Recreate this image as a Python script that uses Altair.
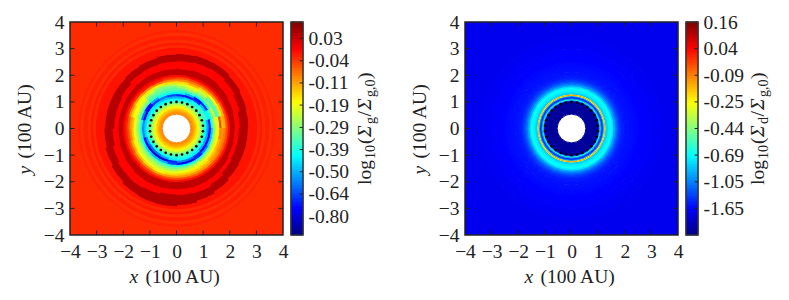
import altair as alt
import numpy as np
import pandas as pd

SERIF = "Liberation Serif"
FS = 19.5
SUB = 14
INK = "#222222"
PW = 213
PH = 213

AXIS_TICKS = [-4, -3, -2, -1, 0, 1, 2, 3, 4]
LEFT_CB_TICKS = [-0.80, -0.64, -0.50, -0.39, -0.29, -0.19, -0.11, -0.04, 0.03]
LEFT_CB_POS = [0.089, 0.193, 0.297, 0.401, 0.505, 0.610, 0.714, 0.818, 0.923]
LEFT_CB_ENDS = [-0.98, 0.085]
RIGHT_CB_TICKS = [-1.65, -1.05, -0.69, -0.44, -0.25, -0.09, 0.04, 0.16]
RIGHT_CB_POS = [0.125, 0.25, 0.375, 0.5, 0.625, 0.75, 0.875, 1.0]
RIGHT_CB_ENDS = [-2.6, 0.16]

# gas: rings inside the gap (edges, values)
G_IN_EDGES = [0.54, 0.60, 0.66, 0.72, 0.78, 0.84, 0.90, 0.96, 1.02, 1.07]
G_IN_VALS = [-0.09, -0.10, -0.12, -0.14, -0.17, -0.21, -0.26, -0.31, -0.36]
# gas: spiral zone, one row per 15 degree sector clockwise from the top
G_SP_EDGES = [1.07, 1.15, 1.23, 1.31, 1.39, 1.47, 1.55, 1.63, 1.71, 1.79, 1.87, 1.95, 2.03]
G_SP_VALS = [
    [-.42, -.50, -.70, -.42, -.36, -.31, -.26, -.21, -.15, -.09, -.05, -.01],
    [-.40, -.46, -.72, -.50, -.36, -.29, -.22, -.17, -.12, -.08, -.04, 0],
    [-.38, -.42, -.68, -.72, -.42, -.31, -.26, -.22, -.15, -.09, -.04, 0],
    [-.36, -.38, -.48, -.68, -.42, -.28, -.34, -.30, -.18, -.10, -.04, 0],
    [-.36, -.38, -.42, -.40, -.30, -.22, -.35, -.32, -.16, -.12, -.05, 0],
    [-.40, -.50, -.70, -.38, -.28, -.20, -.22, -.05, -.13, -.11, -.05, -.01],
    [-.42, -.52, -.76, -.46, -.30, -.20, -.17, -.09, -.10, -.08, -.05, -.01],
    [-.42, -.52, -.76, -.48, -.32, -.22, -.17, -.13, -.10, -.08, -.05, -.01],
    [-.42, -.50, -.74, -.55, -.35, -.24, -.19, -.14, -.11, -.09, -.05, -.01],
    [-.40, -.44, -.68, -.68, -.38, -.26, -.20, -.16, -.13, -.10, -.05, -.01],
    [-.38, -.42, -.58, -.74, -.40, -.28, -.22, -.17, -.14, -.10, -.06, -.01],
    [-.38, -.42, -.56, -.76, -.40, -.30, -.24, -.19, -.14, -.10, -.05, -.01],
    [-.38, -.44, -.70, -.64, -.38, -.31, -.26, -.20, -.15, -.10, -.05, -.01],
    [-.40, -.50, -.78, -.50, -.36, -.30, -.25, -.21, -.17, -.11, -.05, -.01],
    [-.42, -.58, -.82, -.48, -.34, -.27, -.23, -.20, -.15, -.09, -.04, -.01],
    [-.42, -.60, -.82, -.45, -.33, -.26, -.22, -.19, -.13, -.08, -.03, 0],
    [-.40, -.54, -.74, -.42, -.32, -.25, -.20, -.17, -.11, -.06, -.03, 0],
    [-.38, -.46, -.56, -.40, -.30, -.24, -.19, -.14, -.09, -.05, -.02, 0],
    [-.38, -.46, -.56, -.40, -.30, -.24, -.19, -.13, -.10, -.06, -.02, 0],
    [-.40, -.46, -.76, -.56, -.33, -.26, -.20, -.18, -.14, -.09, -.03, 0],
    [-.42, -.44, -.74, -.72, -.33, -.27, -.20, -.19, -.17, -.10, -.03, 0],
    [-.42, -.46, -.66, -.50, -.36, -.33, -.28, -.22, -.16, -.09, -.02, 0],
    [-.42, -.48, -.58, -.42, -.36, -.33, -.30, -.27, -.17, -.08, -.02, 0],
    [-.42, -.50, -.64, -.42, -.36, -.33, -.30, -.24, -.15, -.09, -.04, -.01],
]
# gas: edges of the two dark bands, one value per 15 degree sector clockwise from the top
G_BAND_START = 2.03
G_BAND1_OUT = [2.25, 2.28, 2.30, 2.27, 2.24, 2.21, 2.20, 2.22, 2.26, 2.29, 2.30, 2.30, 2.30, 2.30, 2.29, 2.26, 2.23, 2.20, 2.20, 2.20, 2.21, 2.23, 2.25, 2.25]
G_BAND2_IN = [2.55, 2.58, 2.60, 2.55, 2.48, 2.40, 2.36, 2.36, 2.40, 2.48, 2.54, 2.52, 2.50, 2.55, 2.58, 2.56, 2.50, 2.42, 2.36, 2.36, 2.40, 2.47, 2.50, 2.53]
G_BAND2_OUT = [2.82, 2.84, 2.85, 2.80, 2.75, 2.72, 2.70, 2.70, 2.72, 2.78, 2.84, 2.90, 2.94, 2.93, 2.90, 2.84, 2.78, 2.73, 2.70, 2.70, 2.70, 2.73, 2.76, 2.80]
G_BAND_END = 3.05
G_BAND_VALS = [0.04, -0.004, 0.048, -0.014]
G_OUT_EDGES = [3.05, 3.15, 3.25, 3.35, 3.50, 3.62, 3.72, 5.70]
G_OUT_VALS = [-0.028, -0.018, -0.032, -0.022, -0.032, -0.024, -0.03]

# dust: rings
D_EDGES = [0.54, 1.02, 1.05, 1.08, 1.11, 1.15, 1.20, 1.24, 1.26, 1.28, 1.30, 1.33, 1.38, 1.46, 1.54, 1.60, 1.66, 1.72, 1.76, 1.80, 1.85, 1.90, 1.95, 2.00, 2.10, 2.20, 2.35, 2.50, 2.75, 3.00, 3.40, 5.70]
D_VALS = [-2.4, -2.0, -1.0, -0.6, -1.0, -1.45, -0.95, -0.25, -0.08, -0.25, -0.85, -0.80, -0.72, -0.68, -0.78, -0.95, -1.1, -1.22, -1.32, -1.4, -1.47, -1.52, -1.55, -1.57, -1.59, -1.6, -1.62, -1.65, -1.68, -1.72, -1.78]

DOT_RADIUS = [1.0]
DOT_ANGLES = [0, 12, 24, 36, 48, 60, 72, 84, 96, 108, 120, 132, 144, 156, 168, 180,
              192, 204, 216, 228, 240, 252, 264, 276, 288, 300, 312, 324, 336, 348]


def jet(t):
    r = float(np.clip(1.5 - abs(4 * t - 3), 0, 1))
    g = float(np.clip(1.5 - abs(4 * t - 2), 0, 1))
    b = float(np.clip(1.5 - abs(4 * t - 1), 0, 1))
    return "#%02x%02x%02x" % (round(r * 255), round(g * 255), round(b * 255))


def stops(ticks, pos, ends):
    ts = np.linspace(0, 1, 81)
    p = [0.0] + list(pos)
    v = [ends[0]] + list(ticks)
    if pos[-1] < 1:
        p.append(1.0)
        v.append(ends[1])
    vals = np.interp(ts, p, v)
    return ts, vals


def color_scale(ticks, pos, ends):
    ts, vals = stops(ticks, pos, ends)
    return alt.Scale(domain=[float(x) for x in vals], range=[jet(t) for t in ts],
                     interpolate="rgb", clamp=True)


def rings(edges, vals):
    return [dict(r=edges[i], r2=edges[i + 1], a=0, a2=360, v=vals[i]) for i in range(len(vals))]


def spiral(edges, table):
    rows = []
    n = len(table)
    for k, row in enumerate(table):
        for i, v in enumerate(row):
            rows.append(dict(r=edges[i], r2=edges[i + 1], a=360 * k / n, a2=360 * (k + 1) / n, v=v))
    return rows


def bands():
    rows = []
    n = len(G_BAND1_OUT)
    for k in range(n):
        e = [G_BAND_START, G_BAND1_OUT[k], G_BAND2_IN[k], G_BAND2_OUT[k], G_BAND_END]
        for i, v in enumerate(G_BAND_VALS):
            rows.append(dict(r=e[i], r2=e[i + 1], a=360 * k / n, a2=360 * (k + 1) / n, v=v))
    return rows


def label(text, x, y, size=FS, style="normal", angle=0, align="center"):
    return alt.Chart(pd.DataFrame({"k": [0]})).mark_text(
        text=text, font=SERIF, fontSize=size, fontStyle=style, angle=angle, align=align,
        baseline="alphabetic", color=INK, clip=False,
    ).encode(x=alt.value(x), y=alt.value(y))


AX = alt.Axis(values=AXIS_TICKS, title=None, grid=False, domain=False, ticks=False, labelFont=SERIF,
              labelFontSize=FS, labelColor=INK, labelPadding=7, labelFlush=False, labelOverlap=False,
              labelBaseline="top", format="d")
AY = alt.Axis(values=AXIS_TICKS, title=None, grid=False, domain=False, ticks=False, labelFont=SERIF,
              labelFontSize=FS, labelColor=INK, labelPadding=6, labelFlush=False, labelOverlap=False,
              format="d")


def panel(rows, scale):
    xs = alt.Scale(domain=[-4, 4], nice=False, zero=False)
    ys = alt.Scale(domain=[-4, 4], nice=False, zero=False)
    X = lambda f: alt.X(f, scale=xs, axis=AX)
    Y = lambda f: alt.Y(f, scale=ys, axis=AY)
    arcs = alt.Chart(pd.DataFrame(rows)).mark_arc(clip=True, strokeWidth=1).encode(
        theta=alt.Theta("a:Q", scale=alt.Scale(domain=[0, 360], range=[0, 2 * np.pi])),
        theta2="a2:Q",
        radius=alt.Radius("r:Q", scale=alt.Scale(type="linear", domain=[0, 4], range=[0, PW / 2], zero=True)),
        radius2="r2:Q",
        color=alt.Color("v:Q", scale=scale, legend=None),
        stroke=alt.Stroke("v:Q", scale=scale, legend=None),
    )
    ang = np.radians(DOT_ANGLES)
    dots = alt.Chart(pd.DataFrame({
        "x": DOT_RADIUS[0] * np.sin(ang), "y": DOT_RADIUS[0] * np.cos(ang)
    })).mark_circle(size=7, color="#000000", opacity=1).encode(x=X("x:Q"), y=Y("y:Q"))
    L = 0.17
    tk = pd.DataFrame({"t": AXIS_TICKS[1:-1]})
    tk["a0"], tk["a1"], tk["b0"], tk["b1"] = -4, -4 + L, 4 - L, 4
    rules = [
        alt.Chart(tk).mark_rule(color=INK, strokeWidth=1).encode(x=X("t:Q"), y=Y("a0:Q"), y2="a1:Q"),
        alt.Chart(tk).mark_rule(color=INK, strokeWidth=1).encode(x=X("t:Q"), y=Y("b0:Q"), y2="b1:Q"),
        alt.Chart(tk).mark_rule(color=INK, strokeWidth=1).encode(y=Y("t:Q"), x=X("a0:Q"), x2="a1:Q"),
        alt.Chart(tk).mark_rule(color=INK, strokeWidth=1).encode(y=Y("t:Q"), x=X("b0:Q"), x2="b1:Q"),
    ]
    frame = alt.Chart(pd.DataFrame({"a": [-4], "b": [4]})).mark_rect(
        filled=False, stroke=INK, strokeWidth=1.5
    ).encode(x=X("a:Q"), x2="b:Q", y=Y("a:Q"), y2="b:Q")
    cx = PW / 2
    txt = [
        label("x", cx - 47, 261, style="italic", align="left"),
        label("(100 AU)", cx - 31, 261, align="left"),
        label("y", -39, PH / 2 + 46, style="italic", angle=270, align="left"),
        label("(100 AU)", -39, PH / 2 + 30, angle=270, align="left"),
    ]
    return alt.layer(arcs, dots, *rules, frame, *txt).properties(width=PW, height=PH).resolve_scale(color="shared", stroke="shared")


def colorbar(ticks, pos, ends, tx, sub):
    ts, vals = stops(ticks, pos, ends)
    p = [0.0] + list(pos) + ([1.0] if pos[-1] < 1 else [])
    v = [ends[0]] + list(ticks) + ([ends[1]] if pos[-1] < 1 else [])
    full_dom = list(v)
    full_rng = [PH * (1 - a) for a in p]
    ys = alt.Scale(domain=full_dom, range=full_rng, nice=False, zero=False)
    xs = alt.Scale(domain=[0, 1], nice=False, zero=False)
    ay = alt.Axis(orient="right", values=ticks, title=None, grid=False, domain=False, ticks=False,
                  labelFont=SERIF, labelFontSize=FS, labelColor=INK, labelPadding=5, labelOverlap=False,
                  labelFlush=False,
                  labelExpr="(datum.value < 0 ? '-' : '') + format(abs(datum.value), '.2f')")
    cells = pd.DataFrame({"v0": vals[:-1], "v1": vals[1:], "v": (vals[:-1] + vals[1:]) / 2, "a": 0, "b": 1})
    cs = color_scale(ticks, pos, ends)
    bar = alt.Chart(cells).mark_rect(strokeWidth=1).encode(
        x=alt.X("a:Q", scale=xs, axis=None), x2="b:Q",
        y=alt.Y("v0:Q", scale=ys, axis=ay),
        y2="v1:Q",
        color=alt.Color("v:Q", scale=cs, legend=None),
        stroke=alt.Stroke("v:Q", scale=cs, legend=None),
    )
    t = pd.DataFrame({"t": ticks, "a": 0.72, "b": 1.0})
    tick = alt.Chart(t).mark_rule(color=INK, strokeWidth=1).encode(
        y=alt.Y("t:Q", scale=ys, axis=ay), x=alt.X("a:Q", scale=xs, axis=None), x2="b:Q")
    frame = alt.Chart(pd.DataFrame({"a": [0], "b": [1], "c": [full_dom[0]], "d": [full_dom[-1]]})).mark_rect(
        filled=False, stroke="#333333", strokeWidth=1.5
    ).encode(x=alt.X("a:Q", scale=xs, axis=None), x2="b:Q", y=alt.Y("c:Q", scale=ys, axis=ay), y2="d:Q")
    y0 = 163
    pieces = [
        ("log", 0, FS, "normal", 0), ("10", 26, SUB, "normal", 4), ("(", 41, FS, "normal", 0),
        ("Σ", 48, FS, "italic", 0), (sub, 61, SUB, "normal", 4), ("/", 68.5, FS, "normal", 0),
        ("Σ", 75, FS, "italic", 0), ("g,0", 88, SUB, "normal", 4), (")", 106, FS, "normal", 0),
    ]
    txt = [label(s, tx + d, y0 - o, size=z, style=st, angle=270, align="left") for s, o, z, st, d in pieces]
    return alt.layer(bar, tick, frame, *txt).properties(width=12, height=PH).resolve_scale(color="shared", stroke="shared")


left = panel(rings(G_IN_EDGES, G_IN_VALS) + spiral(G_SP_EDGES, G_SP_VALS) + bands() + rings(G_OUT_EDGES, G_OUT_VALS),
             color_scale(LEFT_CB_TICKS, LEFT_CB_POS, LEFT_CB_ENDS))
right = panel(rings(D_EDGES, D_VALS), color_scale(RIGHT_CB_TICKS, RIGHT_CB_POS, RIGHT_CB_ENDS))
cb1 = colorbar(LEFT_CB_TICKS, LEFT_CB_POS, LEFT_CB_ENDS, 80, "g")
cb2 = colorbar(RIGHT_CB_TICKS, RIGHT_CB_POS, RIGHT_CB_ENDS, 78, "d")
spacer = alt.Chart(pd.DataFrame({"k": [0]})).mark_rule(opacity=0).encode(x=alt.value(0)).properties(width=146, height=PH)

chart = alt.hconcat(left, cb1, spacer, right, cb2, spacing=8, bounds="flush").resolve_scale(
    color="independent", stroke="independent"
).properties(padding={"left": 7, "top": 4, "right": 5, "bottom": 5}, background="white").configure_view(stroke=None)

chart.save("out.html", embed_options={"renderer": "svg", "actions": False})
